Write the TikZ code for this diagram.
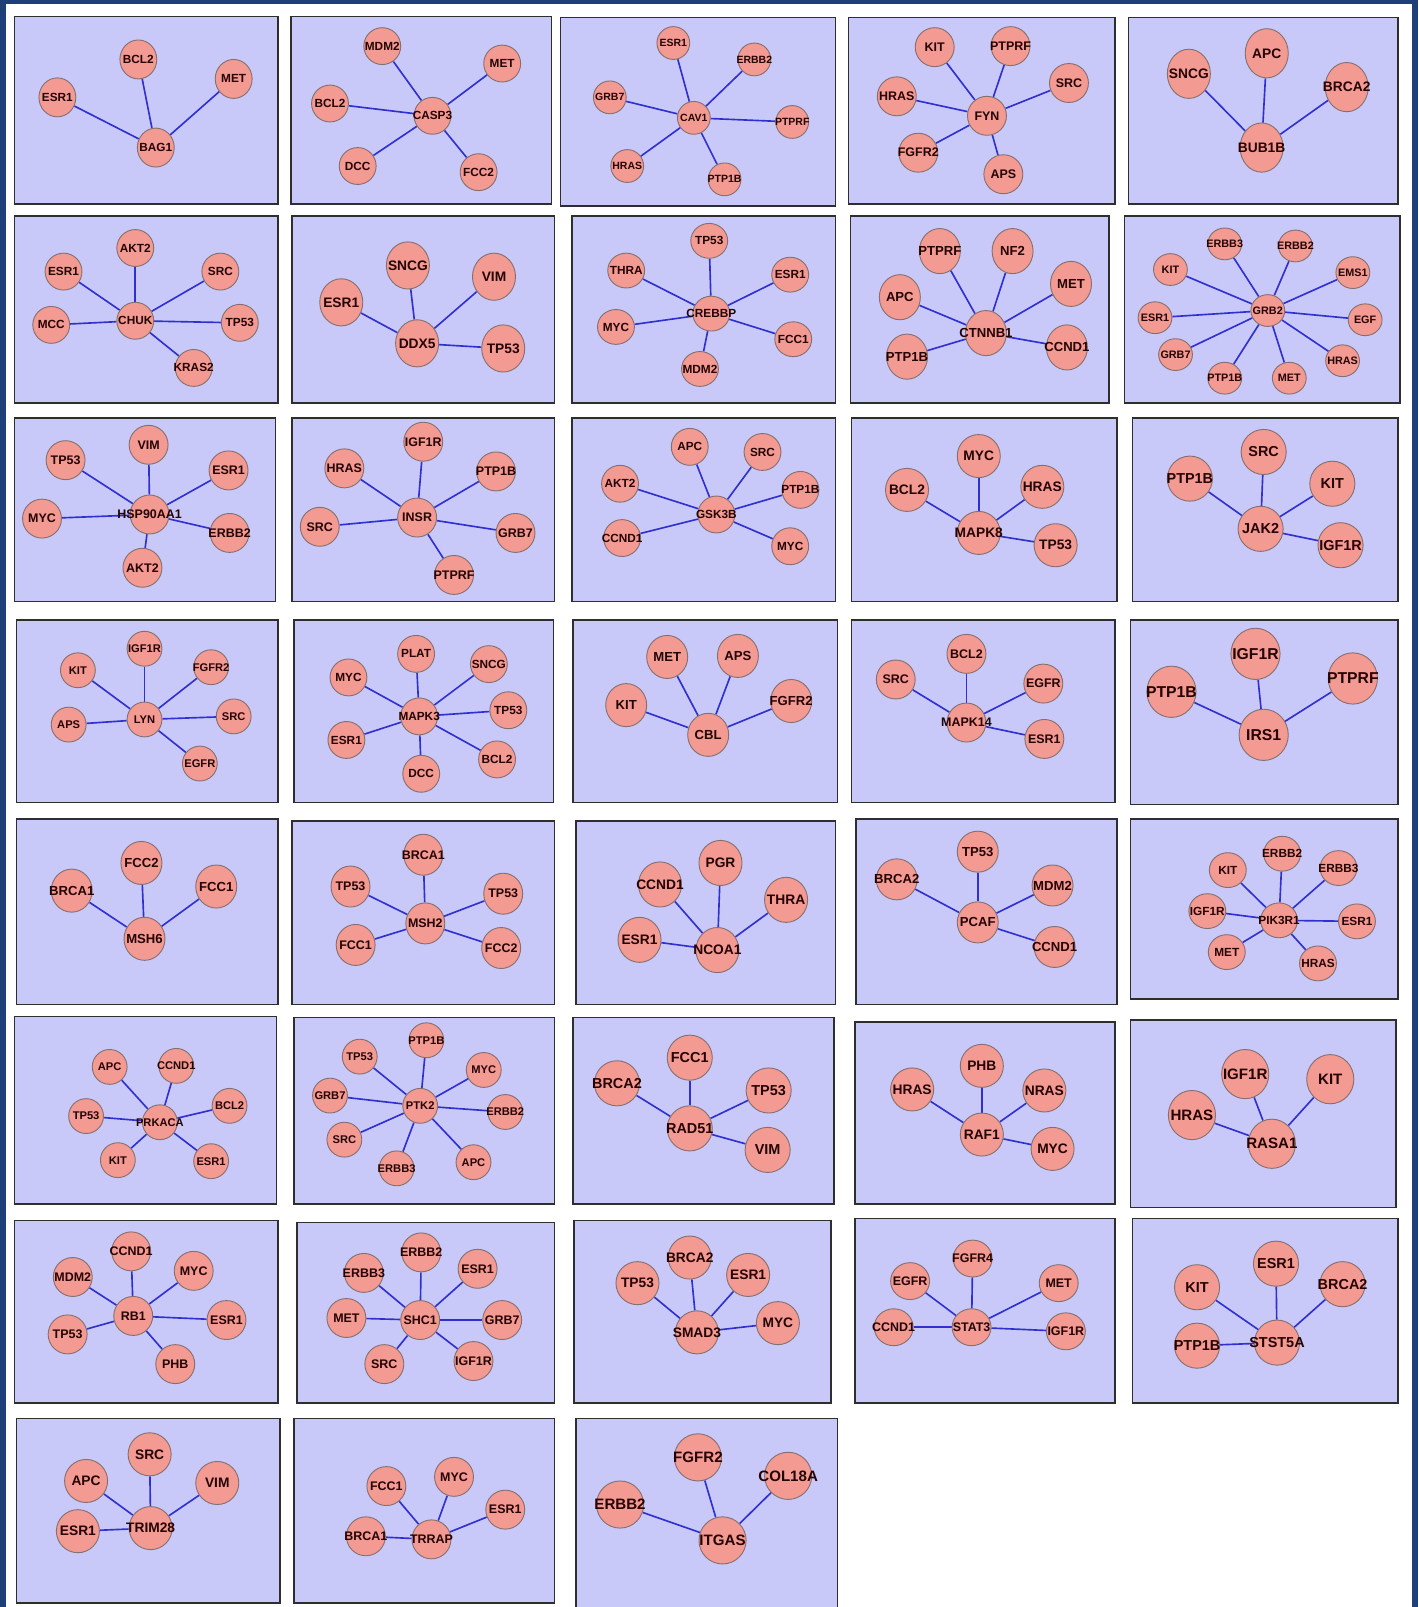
\documentclass[tikz,border=0pt]{standalone}
\usepackage{fontspec}
\setmainfont{Liberation Sans}
\usetikzlibrary{shapes.geometric}
\pgfdeclarelayer{bg}
\pgfdeclarelayer{edges}
\pgfsetlayers{bg,edges,main}
\definecolor{panelfill}{HTML}{C9C9F9}
\definecolor{panelline}{HTML}{2E2E2E}
\definecolor{genefill}{HTML}{F39A92}
\definecolor{geneline}{HTML}{857070}
\definecolor{genetext}{HTML}{250303}
\definecolor{linkblue}{HTML}{3030D0}
\definecolor{framecol}{HTML}{1F3F7A}
\tikzset{
  gene/.style={ellipse, fill=genefill, draw=geneline, line width=0.9pt, inner sep=0pt, text=genetext},
  link/.style={draw=linkblue, line width=1.6pt},
  panelbox/.style={fill=panelfill, draw=panelline, line width=1.5pt}
}
\newcommand\gpanel[4]{%
  \begin{pgfonlayer}{bg}\draw[panelbox] (#1,#2) rectangle (#3,#4);\end{pgfonlayer}}
\newcommand\hubgraph[7]{%
  \pgfmathsetmacro\fsz{0.32*#2}%
  \tikzset{cur/.style={gene, minimum width=#2pt, minimum height=#3pt, font=\fontsize{\fsz}{\fsz}\selectfont\bfseries}}%
  \node[cur] (#1) at (#5,#6) {\makebox[0pt][c]{#4}};
  \foreach \lab/\xx/\yy [count=\i] in {#7} {
    \node[cur] (#1s\i) at (\xx,\yy) {\makebox[0pt][c]{\lab}};
    \begin{pgfonlayer}{edges}\draw[link] (#1) -- (#1s\i);\end{pgfonlayer}
  }}
\begin{document}
\begin{tikzpicture}[x=1pt,y=-1pt]
\useasboundingbox (0,0) rectangle (1384,1568);
\begin{pgfonlayer}{bg}
\fill[white] (0,0) rectangle (1384,1568);
\fill[framecol] (0,0) rectangle (1384,4);
\fill[framecol] (0,0) rectangle (6,1568);
\fill[framecol] (1378,0) rectangle (1384,1568);
\end{pgfonlayer}
% row 1
\gpanel{14}{16}{271}{199}
\hubgraph{a}{36}{38}{BAG1}{152}{144}{BCL2/135/58, ESR1/56/95, MET/228/77}
\gpanel{284}{16}{538}{199}
\hubgraph{b}{36}{36}{CASP3}{422}{113}{MDM2/373/45, MET/490/62, BCL2/322/101, DCC/349/162, FCC2/467/168}
\gpanel{547}{17}{815}{201}
\hubgraph{c}{32}{32}{CAV1}{677}{115}{ESR1/657/42, ERBB2/736/58, GRB7/595/95, PTPRF/773/119, HRAS/612/162, PTP1B/707/175}
\gpanel{828}{17}{1088}{199}
\hubgraph{d}{38}{38}{FYN}{963}{113}{KIT/912/46, PTPRF/986/45, SRC/1043/81, HRAS/875/94, FGFR2/896/149, APS/979/170}
\gpanel{1101}{17}{1364}{199}
\hubgraph{e}{42}{48}{BUB1B}{1231}{144}{APC/1236/52, SNCG/1160/72, BRCA2/1314/85}
% row 2
\gpanel{14}{211}{271}{393}
\hubgraph{f}{36}{36}{CHUK}{132}{313}{AKT2/132/242, ESR1/62/265, SRC/215/265, MCC/50/317, TP53/234/315, KRAS2/189/359}
\gpanel{285}{211}{541}{393}
\hubgraph{g}{42}{46}{DDX5}{407}{335}{SNCG/398/259, VIM/482/270, ESR1/333/295, TP53/491/340}
\gpanel{558}{211}{815}{393}
\hubgraph{h}{36}{34}{CREBBP}{694}{306}{TP53/692/235, THRA/611/264, ESR1/771/268, MYC/601/319, FCC1/774/331, MDM2/683/360}
\gpanel{830}{211}{1082}{393}
\hubgraph{i}{40}{44}{CTNNB1}{962}{325}{PTPRF/917/245, NF2/988/245, MET/1045/277, APC/878/290, PTP1B/885/348, CCND1/1041/339}
\gpanel{1097}{211}{1366}{393}
\hubgraph{j}{33}{31}{GRB2}{1237}{303}{ERBB3/1195/238, ERBB2/1264/240, KIT/1142/263, EMS1/1320/266, ESR1/1127/310, EGF/1332/312, GRB7/1147/346, HRAS/1310/352, PTP1B/1195/369, MET/1258/369}
% row 3
\gpanel{14}{408}{269}{587}
\hubgraph{k}{38}{38}{HSP90AA1}{146}{502}{VIM/145/434, TP53/64/449, ESR1/223/459, MYC/41/506, ERBB2/224/520, AKT2/139/554}
\gpanel{285}{408}{541}{587}
\hubgraph{l}{38}{38}{INSR}{407}{505}{IGF1R/413/431, HRAS/336/457, PTP1B/484/460, SRC/312/514, GRB7/503/520, PTPRF/443/561}
\gpanel{558}{408}{815}{587}
\hubgraph{m}{36}{36}{GSK3B}{699}{502}{APC/673/436, SRC/744/441, AKT2/605/472, PTP1B/781/478, CCND1/607/525, MYC/771/533}
\gpanel{831}{408}{1090}{587}
\hubgraph{n}{42}{42}{MAPK8}{955}{520}{MYC/955/445, BCL2/885/478, HRAS/1017/475, TP53/1030/532}
\gpanel{1105}{408}{1364}{587}
\hubgraph{o}{44}{44}{JAK2}{1230}{516}{SRC/1233/441, PTP1B/1161/467, KIT/1300/472, IGF1R/1308/532}
% row 4
\gpanel{16}{605}{271}{783}
\hubgraph{p}{34}{34}{LYN}{141}{702}{IGF1R/141/633, KIT/76/654, FGFR2/206/651, APS/67/707, SRC/228/699, EGFR/195/745}
\gpanel{287}{605}{540}{783}
\hubgraph{q}{36}{36}{MAPK3}{409}{699}{PLAT/406/638, SNCG/477/648, MYC/340/661, TP53/496/693, ESR1/338/722, BCL2/485/741, DCC/411/755}
\gpanel{559}{605}{817}{783}
\hubgraph{r}{40}{42}{CBL}{691}{717}{MET/651/641, APS/720/640, KIT/611/688, FGFR2/772/684}
\gpanel{831}{605}{1088}{783}
\hubgraph{s}{38}{38}{MAPK14}{943}{705}{BCL2/943/638, SRC/874/663, EGFR/1018/667, ESR1/1019/721}
\gpanel{1103}{605}{1364}{785}
\hubgraph{t}{48}{50}{IRS1}{1233}{717}{IGF1R/1225/638, PTP1B/1143/675, PTPRF/1320/662}
% row 5
\gpanel{16}{799}{271}{980}
\hubgraph{u}{40}{42}{MSH6}{141}{916}{FCC2/138/842, BRCA1/70/869, FCC1/211/865}
\gpanel{285}{801}{541}{980}
\hubgraph{v}{38}{40}{MSH2}{415}{901}{BRCA1/413/834, TP53/342/865, TP53/491/872, FCC1/347/922, FCC2/489/925}
\gpanel{562}{801}{815}{980}
\hubgraph{w}{42}{44}{NCOA1}{700}{927}{PGR/703/842, CCND1/644/863, THRA/767/878, ESR1/624/917}
\gpanel{835}{799}{1090}{980}
\hubgraph{x}{40}{40}{PCAF}{954}{900}{TP53/954/831, BRCA2/875/858, MDM2/1027/864, CCND1/1029/924}
\gpanel{1103}{799}{1364}{975}
\hubgraph{y}{36}{34}{PIK3R1}{1248}{898}{ERBB2/1251/833, KIT/1198/849, ERBB3/1306/847, IGF1R/1178/889, ESR1/1324/899, MET/1197/929, HRAS/1286/940}
% row 6
\gpanel{14}{992}{270}{1175}
\hubgraph{z}{34}{34}{PRKACA}{156}{1095}{APC/107/1041, CCND1/172/1040, TP53/84/1089, BCL2/224/1079, KIT/115/1132, ESR1/206/1133}
\gpanel{287}{993}{541}{1175}
\hubgraph{aa}{34}{34}{PTK2}{410}{1079}{PTP1B/416/1015, TP53/351/1031, MYC/472/1044, GRB7/322/1069, ERBB2/493/1085, SRC/336/1112, APC/462/1134, ERBB3/387/1140}
\gpanel{559}{993}{814}{1175}
\hubgraph{ab}{44}{44}{RAD51}{673}{1101}{FCC1/673/1032, BRCA2/602/1057, TP53/750/1064, VIM/749/1122}
\gpanel{834}{997}{1088}{1175}
\hubgraph{ac}{42}{42}{RAF1}{958}{1107}{PHB/958/1040, HRAS/890/1063, NRAS/1019/1064, MYC/1027/1121}
\gpanel{1103}{995}{1362}{1178}
\hubgraph{ad}{46}{48}{RASA1}{1241}{1116}{IGF1R/1215/1048, KIT/1298/1053, HRAS/1163/1088}
% row 7
\gpanel{14}{1191}{271}{1369}
\hubgraph{ae}{38}{38}{RB1}{130}{1284}{CCND1/128/1221, MDM2/71/1246, MYC/189/1240, ESR1/221/1288, TP53/66/1302, PHB/171/1331}
\gpanel{290}{1193}{541}{1369}
\hubgraph{af}{38}{38}{SHC1}{410}{1288}{ERBB2/411/1222, ERBB3/355/1242, ESR1/466/1238, MET/338/1286, GRB7/490/1288, SRC/375/1331, IGF1R/462/1328}
\gpanel{560}{1191}{811}{1369}
\hubgraph{ag}{42}{42}{SMAD3}{680}{1300}{BRCA2/673/1227, ESR1/730/1244, TP53/622/1252, MYC/759/1291}
\gpanel{834}{1189}{1088}{1369}
\hubgraph{ah}{38}{36}{STAT3}{948}{1295}{FGFR4/949/1228, EGFR/888/1250, MET/1033/1252, CCND1/872/1295, IGF1R/1040/1299}
\gpanel{1105}{1189}{1364}{1369}
\hubgraph{ai}{44}{44}{STST5A}{1246}{1310}{ESR1/1245/1233, KIT/1168/1256, BRCA2/1310/1253, PTP1B/1168/1313}
% row 8
\gpanel{16}{1384}{273}{1564}
\hubgraph{aj}{42}{42}{TRIM28}{147}{1491}{SRC/146/1419, APC/84/1445, VIM/212/1447, ESR1/76/1494}
\gpanel{287}{1384}{541}{1564}
\hubgraph{ak}{38}{38}{TRRAP}{421}{1502}{MYC/443/1441, FCC1/377/1450, ESR1/493/1473, BRCA1/357/1499}
\gpanel{562}{1384}{817}{1575}
\hubgraph{al}{46}{46}{ITGAS}{705}{1503}{FGFR2/681/1422, COL18A/769/1440, ERBB2/605/1468}
\end{tikzpicture}
\end{document}
